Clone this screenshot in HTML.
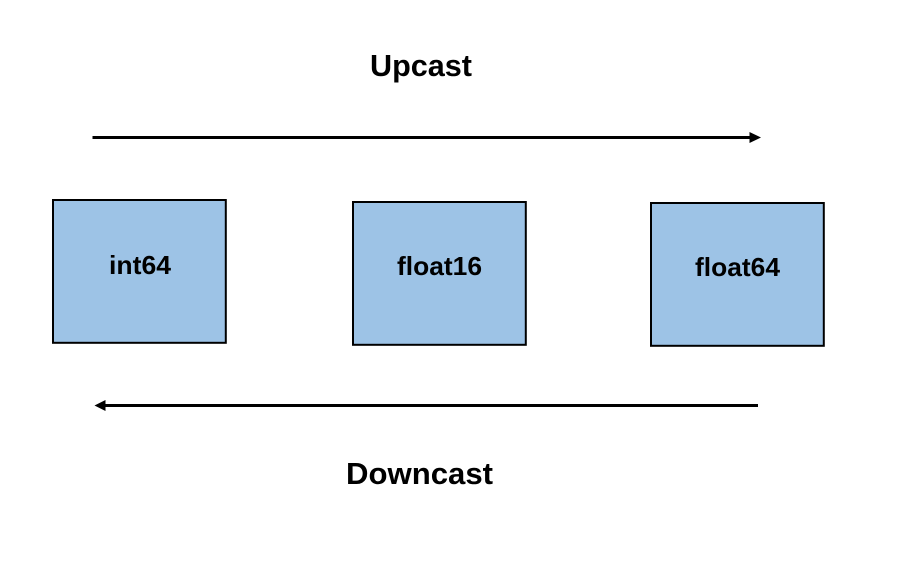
<!DOCTYPE html>
<html>
<head>
<meta charset="utf-8">
<style>
html,body{margin:0;padding:0;background:#fff;width:916px;height:574px;overflow:hidden}
svg{display:block}
text{font-family:"Liberation Sans",sans-serif;font-weight:700;fill:#000}
</style>
</head>
<body>
<svg width="916" height="574" viewBox="0 0 916 574" xmlns="http://www.w3.org/2000/svg">
<rect width="916" height="574" fill="#fff"/>
<text x="370" y="76" font-size="31" textLength="102" lengthAdjust="spacingAndGlyphs">Upcast</text>
<line x1="92.500" y1="137.500" x2="752" y2="137.500" stroke="#000" stroke-width="3"/>
<polygon points="749.500,132 761,137.500 749.500,143" fill="#000"/>
<rect x="53" y="200" width="172.800" height="142.800" fill="#9dc3e6" stroke="#000" stroke-width="2"/>
<rect x="353" y="202" width="172.800" height="142.800" fill="#9dc3e6" stroke="#000" stroke-width="2"/>
<rect x="651" y="203" width="172.800" height="142.800" fill="#9dc3e6" stroke="#000" stroke-width="2"/>
<text x="109" y="274" font-size="26" textLength="62" lengthAdjust="spacingAndGlyphs">int64</text>
<text x="397" y="275" font-size="26" textLength="85" lengthAdjust="spacingAndGlyphs">float16</text>
<text x="695" y="276" font-size="26" textLength="85" lengthAdjust="spacingAndGlyphs">float64</text>
<line x1="758" y1="405.500" x2="103" y2="405.500" stroke="#000" stroke-width="3"/>
<polygon points="105.500,400 94.500,405.500 105.500,411" fill="#000"/>
<text x="346" y="484" font-size="31" textLength="147" lengthAdjust="spacingAndGlyphs">Downcast</text>
</svg>
</body>
</html>
